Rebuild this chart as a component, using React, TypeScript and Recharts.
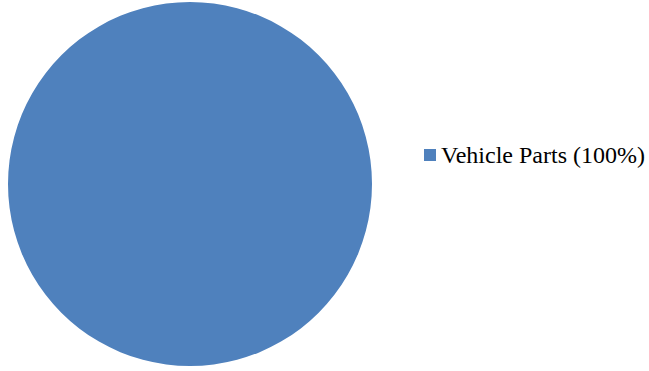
import * as React from 'react'
import { Cell, Pie, PieChart } from 'recharts'

const categories = ['Vehicle Parts']
const shares = [100]
const colors = ['#4F81BD']

const data = categories.map((name, i) => ({ name, value: shares[i] }))

export default function App() {
  return (
    <div style={{ position: 'absolute', left: 0, top: 0, width: 649, height: 371 }}>
      <PieChart width={649} height={371} margin={{ top: 0, right: 0, bottom: 0, left: 0 }}>
        <Pie
          data={data}
          dataKey="value"
          nameKey="name"
          cx={190}
          cy={184}
          outerRadius={182}
          startAngle={90}
          endAngle={-270}
          stroke="none"
          isAnimationActive={false}
        >
          {data.map((d, i) => <Cell key={d.name} fill={colors[i]} />)}
        </Pie>
      </PieChart>
      {/* legend kept outside the chart so it doesn't shift the pie */}
      <div style={{ position: 'absolute', left: 424, top: 139 }}>
        {data.map((d, i) => (
          <div key={d.name} style={{ display: 'flex', alignItems: 'center', whiteSpace: 'nowrap', height: 32 }}>
            <span style={{ display: 'inline-block', width: 12, height: 12, background: colors[i], marginRight: 5 }} />
            <span style={{ fontFamily: '"Liberation Serif", "Times New Roman", serif', fontSize: 24, color: '#000' }}>
              {d.name} ({shares[i]}%)
            </span>
          </div>
        ))}
      </div>
    </div>
  )
}
